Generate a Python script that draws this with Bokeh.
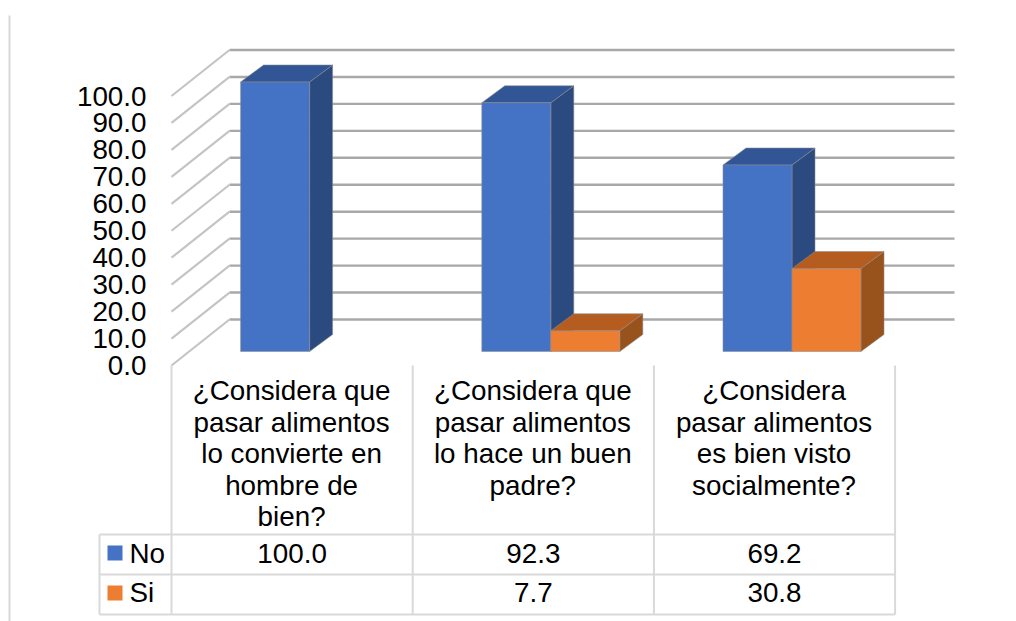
from bokeh.plotting import figure
from bokeh.models import Range1d, FixedTicker, NumeralTickFormatter, LinearAxis
from bokeh.core.properties import value
from bokeh.embed import file_html
from bokeh.resources import INLINE

# ---- data ----
category_lines = [
    ["¿Considera que", "pasar alimentos", "lo convierte en", "hombre de", "bien?"],
    ["¿Considera que", "pasar alimentos", "lo hace un buen", "padre?"],
    ["¿Considera", "pasar alimentos", "es bien visto", "socialmente?"],
]
series_names = ["No", "Si"]
no_values = [100.0, 92.3, 69.2]
si_values = [None, 7.7, 30.8]
no_labels = ["100.0", "92.3", "69.2"]
si_labels = ["", "7.7", "30.8"]
y_ticks = [0, 10, 20, 30, 40, 50, 60, 70, 80, 90, 100]

# ---- geometry of the 3D projection (page pixels) ----
W, H = 1016, 621
PAGE = 0
AX_X, AX_Y = 172.0, 365.0
CAT_W = 241.2
PX = 2.695


def X(px):
    return (px - AX_X) / CAT_W


def Y(py):
    return (AX_Y - py) / PX


def DX(px):
    return px / CAT_W


def DY(py):
    return py / PX


p = figure(width=W, height=H, output_backend="svg", toolbar_location=None,
           x_range=Range1d(X(PAGE + 1), X(PAGE + W + 1)),
           y_range=Range1d(Y(PAGE + H), Y(PAGE)),
           x_axis_type=None, y_axis_type=None, min_border=0,
           background_fill_color="white", border_fill_color="white")
p.grid.visible = False
p.outline_line_color = None

FONT = value("Liberation Sans")
FS = "27.8px"
TABLE = "#d9d9d9"

# y axis (real axis, at the front left edge)
axis = LinearAxis(ticker=FixedTicker(ticks=y_ticks),
                  formatter=NumeralTickFormatter(format="0.0"),
                  axis_line_color=None, major_tick_line_color=None,
                  minor_tick_line_color=None, major_label_standoff=19,
                  major_label_text_font="Liberation Sans",
                  major_label_text_font_size=FS,
                  major_label_text_color="black")
axis.fixed_location = 0
p.add_layout(axis, "left")

# page border line
p.segment([X(10)], [Y(15)], [X(10)], [Y(PAGE + H)], line_color=TABLE, line_width=2)

# walls: back gridlines and diagonal side lines
WALL_DX, WALL_DY = DX(58), DY(46)
END_X = X(955)
p.segment([WALL_DX] * len(y_ticks), [t + WALL_DY for t in y_ticks],
          [END_X] * len(y_ticks), [t + WALL_DY for t in y_ticks],
          line_color="#a8a8a8", line_width=2.4)
p.segment([0] * len(y_ticks), y_ticks,
          [WALL_DX] * len(y_ticks), [t + WALL_DY for t in y_ticks],
          line_color="#c4c4c4", line_width=2.2)


# bars
BAR_W = DX(69)
DEPTH_X, DEPTH_Y = DX(23), DY(17)
BASE = Y(351)
GROUP_SHIFT = DX(17.5)


def draw_series(values, offset, front, top, side):
    for i, v in enumerate(values):
        if v is None:
            continue
        left = i + 0.5 + GROUP_SHIFT + offset * BAR_W - BAR_W
        right = left + BAR_W
        h = BASE + v
        edge = dict(line_color="#8c8c8c", line_alpha=0.55, line_width=1)
        p.patch([right, right + DEPTH_X, right + DEPTH_X, right],
                [BASE, BASE + DEPTH_Y, h + DEPTH_Y, h],
                fill_color=side, **edge)
        p.patch([left, right, right + DEPTH_X, left + DEPTH_X],
                [h, h, h + DEPTH_Y, h + DEPTH_Y],
                fill_color=top, **edge)
        p.quad(left=[left], right=[right], bottom=[BASE], top=[h],
               fill_color=front, **edge)


draw_series(no_values, 0, "#4472c4", "#325595", "#2b4a80")
draw_series(si_values, 1, "#ed7d31", "#b55d21", "#98521c")

# data table grid
TX0, TX3 = X(100), 3
ROW = [Y(534), Y(574), Y(614)]
p.segment([TX0] * 3, ROW, [TX3] * 3, ROW, line_color=TABLE, line_width=2)
p.segment([TX0], [ROW[0]], [TX0], [ROW[2]], line_color=TABLE, line_width=2)
p.segment([0, 1, 2, 3], [0] * 4, [0, 1, 2, 3], [ROW[2]] * 4, line_color=TABLE, line_width=2)

# category labels
LINE_H = 31.6
for i, lines in enumerate(category_lines):
    p.text([i + 0.5 - DX(0.5)] * len(lines), [Y(390 + k * LINE_H) for k in range(len(lines))], text=lines,
           text_align="center", text_baseline="middle", text_font=FONT,
           text_font_size=FS, text_color="black")

# table values
centers = [0.5, 1.5, 2.5]
p.text(centers, [Y(553)] * 3, text=no_labels, text_align="center", text_baseline="middle",
       text_font=FONT, text_font_size=FS, text_color="black")
p.text(centers, [Y(592)] * 3, text=si_labels, text_align="center", text_baseline="middle",
       text_font=FONT, text_font_size=FS, text_color="black")

# legend keys
p.quad(left=[X(108), X(108)], right=[X(123), X(123)],
       bottom=[Y(560), Y(600)], top=[Y(545), Y(585)],
       fill_color=["#4472c4", "#ed7d31"], line_color=None)
p.text([X(130), X(130)], [Y(553), Y(592)], text=series_names, text_align="left",
       text_baseline="middle", text_font=FONT, text_font_size=FS, text_color="black")

open("out.html", "w").write(file_html(p, INLINE))
